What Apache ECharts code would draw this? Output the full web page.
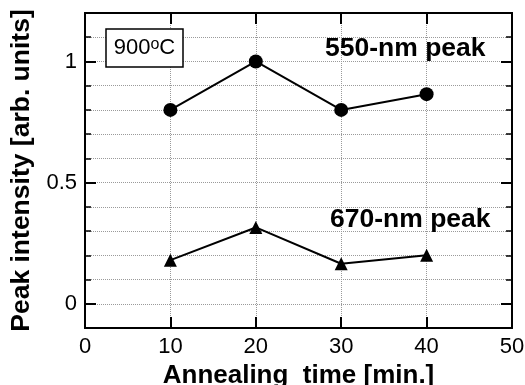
<!DOCTYPE html>
<html>
<head>
<meta charset="utf-8">
<script src="https://cdn.jsdelivr.net/npm/echarts@6/dist/echarts.min.js"></script>
<style>html,body{margin:0;padding:0;background:#fff}#c{width:525px;height:385px}</style>
</head>
<body>
<div id="c"></div>
<script>
var times = [10, 20, 30, 40];
var peak550 = [0.80, 1.00, 0.80, 0.865];
var peak670 = [0.18, 0.315, 0.165, 0.20];
var xTickLabels = [0, 10, 20, 30, 40, 50];
var yTickLabels = [0, 0.5, 1];

var FONT = "'Liberation Sans', Arial, Helvetica, sans-serif";
var chart = echarts.init(document.getElementById('c'));
var gridLine = { show: true, lineStyle: { color: '#9a9a9a', type: [1, 1], width: 1 } };
var axLine = { show: true, onZero: false, lineStyle: { color: '#000', width: 2 } };
function yAx(pos, major, labels) {
  return {
    type: 'value', position: pos, min: -0.1, max: 1.2, interval: 0.1,
    axisLine: axLine,
    axisTick: major ? { show: true, inside: true, length: 11, customValues: yTickLabels, lineStyle: { color: '#000', width: 2 } }
                    : { show: true, inside: true, length: 6, lineStyle: { color: '#000', width: 1.5 } },
    axisLabel: labels ? { show: true, customValues: yTickLabels, fontSize: 22, color: '#000', fontFamily: FONT, margin: 8 } : { show: false },
    splitLine: (!major && labels) ? gridLine : { show: false },
    name: labels && !major ? 'Peak intensity [arb. units]' : '',
    nameLocation: 'middle', nameGap: 49,
    nameTextStyle: { fontSize: 26.5, fontWeight: 'bold', color: '#000', fontFamily: FONT }
  };
}
chart.setOption({
  animation: false,
  grid: { left: 85, right: 13, top: 13, bottom: 57, containLabel: false, outerBoundsMode: 'none' },
  xAxis: [
    { type: 'value', position: 'bottom', min: 0, max: 50, interval: 10,
      axisLine: axLine,
      axisTick: { show: true, inside: true, length: 11, lineStyle: { color: '#000', width: 2 } },
      axisLabel: { fontSize: 22, color: '#000', fontFamily: FONT, margin: 8, customValues: xTickLabels },
      splitLine: gridLine,
      name: 'Annealing  time [min.]', nameLocation: 'middle', nameGap: 34,
      nameTextStyle: { fontSize: 26, fontWeight: 'bold', color: '#000', fontFamily: FONT } },
    { type: 'value', position: 'top', min: 0, max: 50, interval: 10,
      axisLine: axLine,
      axisTick: { show: true, inside: true, length: 11, lineStyle: { color: '#000', width: 2 } },
      axisLabel: { show: false }, splitLine: { show: false } }
  ],
  yAxis: [yAx('left', false, true), yAx('left', true, false), yAx('right', false, false), yAx('right', true, false)],
  series: [
    { type: 'line', xAxisIndex: 0, yAxisIndex: 0, data: times.map(function (t, i) { return [t, peak550[i]]; }),
      symbol: 'circle', symbolSize: 14, lineStyle: { color: '#000', width: 2 }, itemStyle: { color: '#000' }, z: 5 },
    { type: 'line', xAxisIndex: 0, yAxisIndex: 0, data: times.map(function (t, i) { return [t, peak670[i]]; }),
      symbol: 'triangle', symbolSize: 13, lineStyle: { color: '#000', width: 2 }, itemStyle: { color: '#000' }, z: 5 }
  ],
  graphic: [
    { type: 'rect', shape: { x: 106, y: 29, width: 77, height: 38 }, style: { fill: '#fff', stroke: '#000', lineWidth: 1.5 }, z: 10 },
    { type: 'text', x: 144.5, y: 48, z: 11, style: { text: '900{s|o}C', fontSize: 22, fontFamily: FONT, fill: '#000', align: 'center', verticalAlign: 'middle',
        rich: { s: { fontSize: 16, fontFamily: FONT, fill: '#000', verticalAlign: 'top', padding: [0, 0, 6, 0] } } } },
    { type: 'text', x: 325, y: 49, z: 11, style: { text: '550-nm peak', fontSize: 26.5, fontWeight: 'bold', fontFamily: FONT, fill: '#000', verticalAlign: 'middle' } },
    { type: 'text', x: 330, y: 220, z: 11, style: { text: '670-nm peak', fontSize: 26.5, fontWeight: 'bold', fontFamily: FONT, fill: '#000', verticalAlign: 'middle' } }
  ]
});
</script>
</body>
</html>
